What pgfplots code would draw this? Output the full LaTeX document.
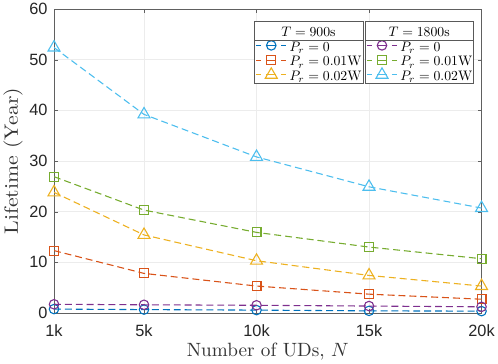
\documentclass[border=0pt]{standalone}
\usepackage{fontspec}
\usepackage{graphicx}
\usepackage{pgfplots}
\pgfplotsset{compat=1.18}
\newfontfamily\ticksf{Liberation Sans}

\definecolor{mblue}{rgb}{0,0.447,0.741}
\definecolor{morange}{rgb}{0.85,0.325,0.098}
\definecolor{myellow}{rgb}{0.929,0.694,0.125}
\definecolor{mpurple}{rgb}{0.494,0.184,0.556}
\definecolor{mgreen}{rgb}{0.466,0.674,0.188}
\definecolor{mcyan}{rgb}{0.301,0.745,0.933}

% legend texts, set like MATLAB's LaTeX interpreter
\newcommand{\lgt}[1]{\hspace{-33pt}\makebox[104pt]{\rule[-4.5pt]{0pt}{18.5pt}\scalebox{1.39}{#1}}}
\newcommand{\lge}[1]{\rule[-3.85pt]{0pt}{17.2pt}\scalebox{1.39}{#1}}

\pgfplotsset{
  common/.style={
    width=432pt, height=307pt, scale only axis,
    xmin=1, xmax=20, ymin=0, ymax=60,
    legend cell align=left,
    legend style={draw=gray!70!black, line width=0.6pt, inner sep=1.5pt,
      row sep=0pt, column sep=3pt, nodes={inner sep=0pt}, anchor=north west},
    legend image code/.code={
      \draw[dash pattern=on 5pt off 5pt on 10pt off 5pt on 5pt, mark repeat=2, mark phase=2]
        plot coordinates {(0pt,0pt) (15pt,0pt) (30pt,0pt)};},
  },
  ln/.style={line width=1.1pt, dash pattern=on 7pt off 4pt, mark options={solid}},
}

\begin{document}
\begin{tikzpicture}
\begin{axis}[
  common,
  xtick={1,5,10,15,20}, xticklabels={1k,5k,10k,15k,20k},
  ytick={0,10,...,60},
  grid=major, grid style={gray!15, line width=0.5pt},
  axis line style={gray!75!black, line width=0.6pt},
  tick align=inside, major tick length=4pt, tick style={gray!75!black},
  tick label style={font=\ticksf\fontsize{16.5}{16.5}\selectfont, text=black!85},
  xticklabel style={yshift=-8pt}, yticklabel style={xshift=-3pt},
  /pgf/number format/assume math mode=true,
  xlabel={\scalebox{1.94}{Number of UDs, $N$}},
  ylabel={\scalebox{2.2}[1.95]{Lifetime (Year)}},
  label style={text=black!80},
  legend style={at={(0.468,0.961)}, name=leg1},
]
\addlegendimage{empty legend}
\addlegendentry{\lgt{$T=900$s}}
\addplot[ln, mblue, mark=o, mark size=4.8pt] coordinates {
  (1,0.75) (5,0.65) (10,0.55) (15,0.4) (20,0.35)};
\addlegendentry{\lge{$P_r=0$}}
\addplot[ln, morange, mark=square, mark size=4.5pt] coordinates {
  (1,12.3) (5,7.8) (10,5.3) (15,3.7) (20,2.7)};
\addlegendentry{\lge{$P_r=0.01$W}}
\addplot[ln, myellow, mark=triangle, mark size=7pt] coordinates {
  (1,23.8) (5,15.4) (10,10.3) (15,7.4) (20,5.3)};
\addlegendentry{\lge{$P_r=0.02$W}}
\end{axis}
\begin{axis}[
  common, hide axis,
  legend style={at={(0.727,0.961)}, name=leg2},
]
\addlegendimage{empty legend}
\addlegendentry{\lgt{$T=1800$s}}
\addplot[ln, mpurple, mark=o, mark size=4.8pt] coordinates {
  (1,1.7) (5,1.6) (10,1.5) (15,1.35) (20,1.2)};
\addlegendentry{\lge{$P_r=0$}}
\addplot[ln, mgreen, mark=square, mark size=4.5pt] coordinates {
  (1,26.9) (5,20.3) (10,15.9) (15,13.0) (20,10.7)};
\addlegendentry{\lge{$P_r=0.01$W}}
\addplot[ln, mcyan, mark=triangle, mark size=7pt] coordinates {
  (1,52.4) (5,39.2) (10,30.8) (15,24.9) (20,20.7)};
\addlegendentry{\lge{$P_r=0.02$W}}
\end{axis}
\foreach \l in {leg1,leg2}{
  \draw[gray!70!black, line width=0.6pt]
    ([yshift=-20pt]\l.north west) -- ([yshift=-20pt]\l.north east);
}
\end{tikzpicture}
\end{document}
